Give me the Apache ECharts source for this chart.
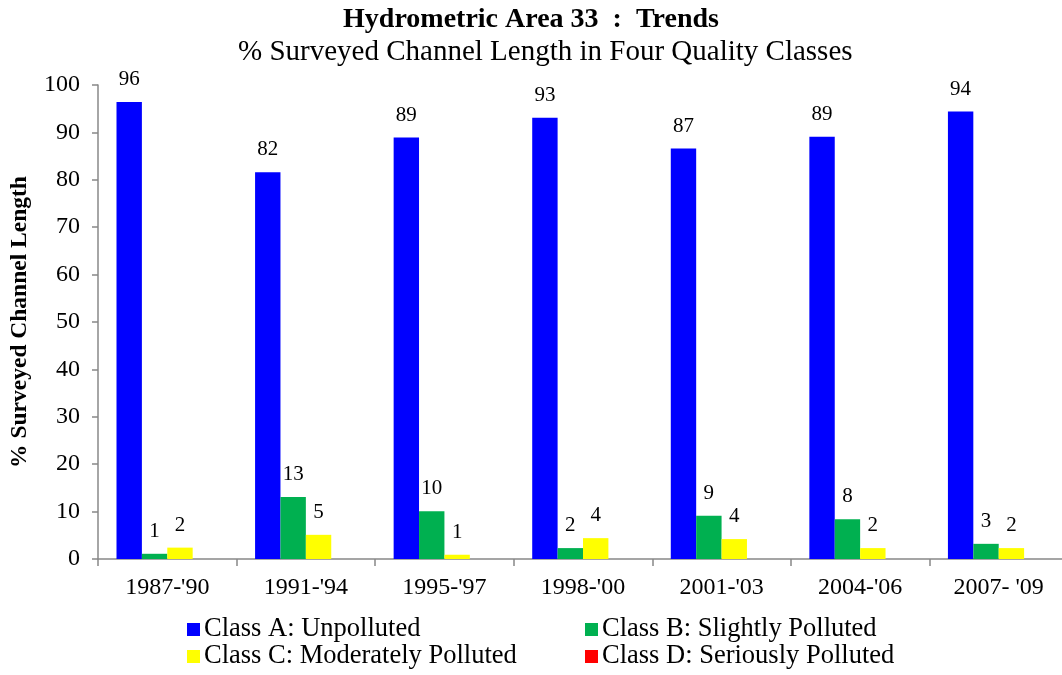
<!DOCTYPE html>
<html>
<head>
<meta charset="utf-8">
<script src="https://cdn.jsdelivr.net/npm/echarts@6/dist/echarts.min.js"></script>
<style>
  html, body { margin: 0; padding: 0; background: #fff; }
  #main { width: 1062px; height: 675px; }
</style>
</head>
<body>
<div id="main"></div>
<script>
var periods = ["1987-'90", "1991-'94", "1995-'97", "1998-'00", "2001-'03", "2004-'06", "2007- '09"];
var classA = [96.4, 81.6, 88.9, 93.1, 86.6, 89.1, 94.4];
var classB = [1.1, 13.1, 10.1, 2.3, 9.1, 8.4, 3.2];
var classC = [2.4, 5.1, 0.9, 4.4, 4.2, 2.3, 2.3];
var classD = [0, 0, 0, 0, 0, 0, 0];
var yTicks = [0, 100, 10]; // min, max, step

var serif = 'Liberation Serif';
var chart = echarts.init(document.getElementById('main'));

function labelOpt(show) {
    return {
        show: show,
        position: 'top',
        distance: 12,
        color: '#000',
        fontFamily: serif,
        fontSize: 21,
        formatter: function (p) { return Math.round(p.value); }
    };
}

function legendAt(name, left, top) {
    return {
        data: [name],
        left: left,
        top: top,
        icon: 'rect',
        itemWidth: 13,
        itemHeight: 13,
        itemGap: 4,
        padding: 0,
        textStyle: { fontFamily: serif, fontSize: 26.5, color: '#000', padding: [0, 0, 0, -1] }
    };
}

var option = {
    backgroundColor: '#fff',
    animation: false,
    title: [
        {
            text: 'Hydrometric Area 33  :  Trends',
            left: 'center',
            top: 1,
            textStyle: { fontFamily: serif, fontSize: 28, fontWeight: 'bold', color: '#000' }
        },
        {
            text: '% Surveyed Channel Length in Four Quality Classes',
            left: 238,
            top: 38,
            padding: 0,
            textStyle: { fontFamily: serif, fontSize: 29, fontWeight: 'normal', color: '#000' }
        }
    ],
    legend: [
        legendAt('Class A: Unpolluted', 187, 616),
        legendAt('Class B: Slightly Polluted', 585, 616),
        legendAt('Class C: Moderately Polluted', 187, 643),
        legendAt('Class D: Seriously Polluted', 585, 643)
    ],
    grid: { left: 98, right: -6, top: 85, bottom: 116, outerBoundsMode: 'none' },
    xAxis: {
        type: 'category',
        data: periods,
        axisLine: { lineStyle: { color: '#888', width: 1.5 } },
        axisTick: { show: true, length: 7, lineStyle: { color: '#888', width: 1.5 } },
        axisLabel: { color: '#000', fontFamily: serif, fontSize: 24, margin: 17 }
    },
    yAxis: {
        type: 'value',
        min: yTicks[0],
        max: yTicks[1],
        interval: yTicks[2],
        name: '% Surveyed Channel Length',
        nameLocation: 'middle',
        nameRotate: 90,
        nameGap: 66,
        nameTextStyle: { fontFamily: serif, fontSize: 23.5, fontWeight: 'bold', color: '#000' },
        axisLine: { show: true, lineStyle: { color: '#888', width: 1.5 } },
        axisTick: { show: true, length: 6, lineStyle: { color: '#888', width: 1.5 } },
        axisLabel: { color: '#000', fontFamily: serif, fontSize: 24, margin: 18 },
        splitLine: { show: false }
    },
    series: [
        { name: 'Class A: Unpolluted', type: 'bar', data: classA, itemStyle: { color: '#0000FF' },
          barGap: '0%', barCategoryGap: '26.7%', label: labelOpt(true) },
        { name: 'Class B: Slightly Polluted', type: 'bar', data: classB, itemStyle: { color: '#00B050' },
          label: labelOpt(true) },
        { name: 'Class C: Moderately Polluted', type: 'bar', data: classC, itemStyle: { color: '#FFFF00' },
          label: labelOpt(true) },
        { name: 'Class D: Seriously Polluted', type: 'bar', data: classD, itemStyle: { color: '#FF0000' },
          label: labelOpt(false) }
    ]
};

chart.setOption(option);
</script>
</body>
</html>
